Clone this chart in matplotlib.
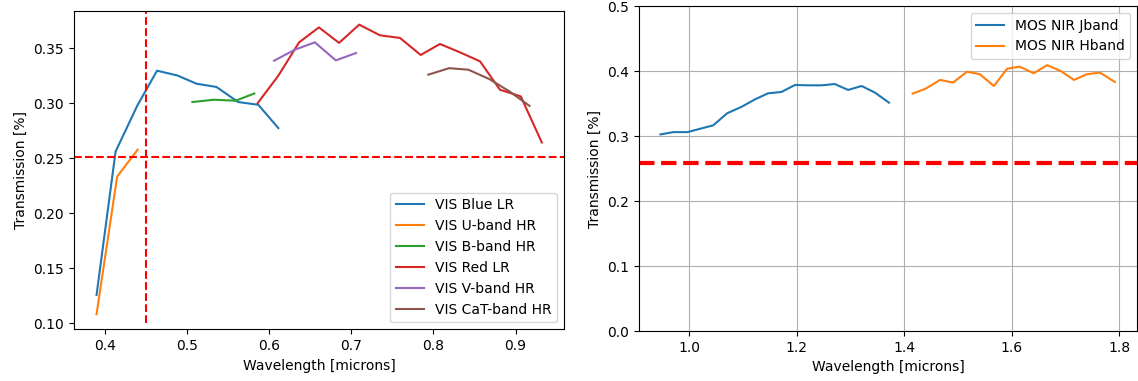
import matplotlib
matplotlib.use("Agg")
import matplotlib.pyplot as plt

# VIS spectrograph arms (left panel)
blue_lr_x = [0.3895, 0.4127, 0.439, 0.4632, 0.4878, 0.5112, 0.5356, 0.562, 0.5866, 0.611]
blue_lr_y = [0.1255, 0.256, 0.2975, 0.3295, 0.3252, 0.3177, 0.3147, 0.301, 0.2985, 0.2773]

uband_x = [0.3895, 0.4146, 0.4395]
uband_y = [0.108, 0.2332, 0.2576]

bband_x = [0.5063, 0.5326, 0.559, 0.5817]
bband_y = [0.301, 0.3031, 0.3022, 0.3088]

red_lr_x = [0.5858, 0.611, 0.6363, 0.6604, 0.685, 0.7095, 0.7348, 0.7592, 0.7844, 0.8079,
            0.8323, 0.8567, 0.881, 0.9064, 0.932]
red_lr_y = [0.300, 0.325, 0.3553, 0.3689, 0.3548, 0.3714, 0.3617, 0.3593, 0.3438, 0.3538,
            0.3462, 0.338, 0.3122, 0.3061, 0.2642]

vband_x = [0.6058, 0.6311, 0.6555, 0.681, 0.7057]
vband_y = [0.3386, 0.3486, 0.3553, 0.3389, 0.3456]

cat_x = [0.7937, 0.819, 0.8426, 0.868, 0.8925, 0.917]
cat_y = [0.3259, 0.3318, 0.3304, 0.3219, 0.3107, 0.2975]

vis_limit = 0.2513
vis_cut = 0.45

# NIR arms (right panel)
jband_x = [0.947, 0.971, 0.997, 1.020, 1.045, 1.071, 1.098, 1.123, 1.147, 1.172,
           1.197, 1.222, 1.247, 1.271, 1.296, 1.321, 1.346, 1.372]
jband_y = [0.3025, 0.306, 0.306, 0.311, 0.3164, 0.335, 0.345, 0.3565, 0.3657, 0.3678,
           0.3785, 0.378, 0.378, 0.380, 0.3709, 0.377, 0.3667, 0.3513]

hband_x = [1.416, 1.4405, 1.467, 1.491, 1.517, 1.541, 1.567, 1.592, 1.615, 1.641,
           1.666, 1.691, 1.716, 1.740, 1.764, 1.792]
hband_y = [0.3653, 0.373, 0.3863, 0.3822, 0.399, 0.395, 0.377, 0.4037, 0.4067, 0.3966,
           0.409, 0.4002, 0.3863, 0.395, 0.3977, 0.3832]

nir_limit = 0.258

plt.rcParams['font.size'] = 10
fig = plt.figure(figsize=(11.38, 3.81), dpi=100)

ax1 = fig.add_axes([0.065, 0.1357, 0.4306, 0.836])
ax1.plot(blue_lr_x, blue_lr_y, label="VIS Blue LR")
ax1.plot(uband_x, uband_y, label="VIS U-band HR")
ax1.plot(bband_x, bband_y, label="VIS B-band HR")
ax1.plot(red_lr_x, red_lr_y, label="VIS Red LR")
ax1.plot(vband_x, vband_y, label="VIS V-band HR")
ax1.plot(cat_x, cat_y, label="VIS CaT-band HR")
ax1.axhline(vis_limit, color='red', ls='--')
ax1.vlines(vis_cut, 0.10, 0.40, color='red', ls='--')
ax1.set_xlim(0.362, 0.959)
ax1.set_ylim(0.0943, 0.384)
ax1.set_xlabel("Wavelength [microns]")
ax1.set_ylabel("Transmission [%]")
ax1.legend(loc='lower right')

ax2 = fig.add_axes([0.5615, 0.1312, 0.4380, 0.853])
ax2.plot(jband_x, jband_y, label="MOS NIR Jband")
ax2.plot(hband_x, hband_y, label="MOS NIR Hband")
ax2.axhline(nir_limit, color='red', ls='--', lw=3)
ax2.set_xlim(0.907, 1.834)
ax2.set_ylim(0, 0.5)
ax2.grid(True)
ax2.set_xlabel("Wavelength [microns]")
ax2.set_ylabel("Transmission [%]")
ax2.legend(loc='upper right')

fig.savefig("out.png", dpi=100)
